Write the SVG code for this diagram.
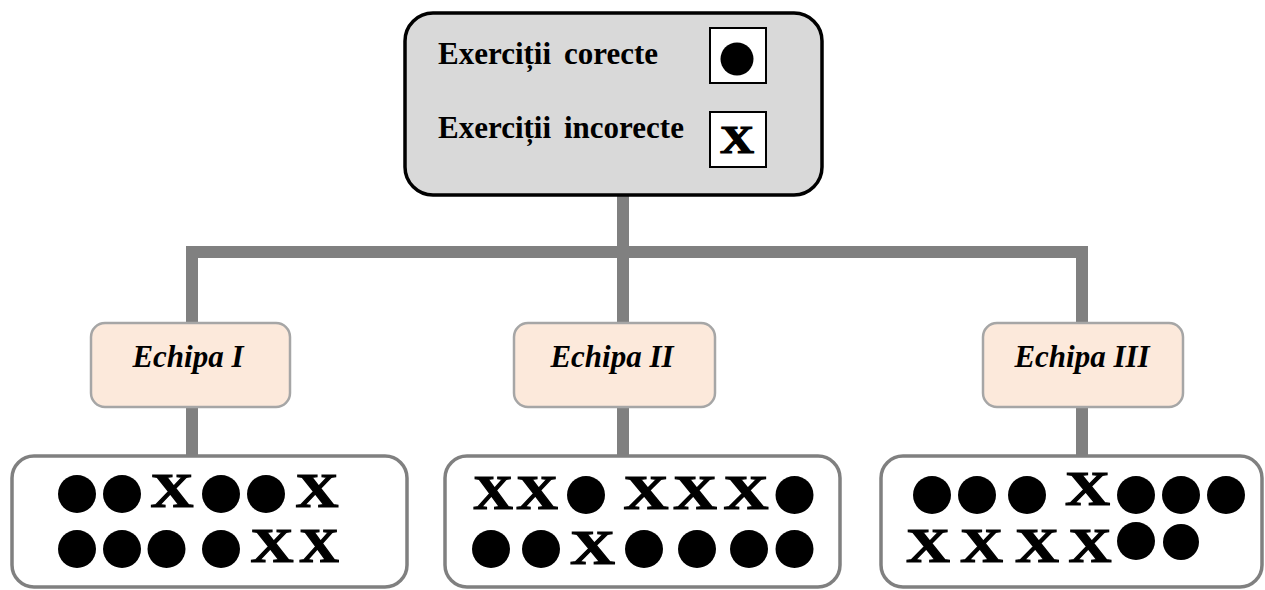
<svg xmlns="http://www.w3.org/2000/svg" width="1265" height="590" viewBox="0 0 1265 590">
<style>
.conn{fill:none;stroke:#808080;stroke-width:12;stroke-linejoin:miter}
.top{fill:#d9d9d9;stroke:#000;stroke-width:3.5}
.leg{fill:#fff;stroke:#000;stroke-width:2}
.lbl{font-family:"Liberation Serif","Times New Roman",serif;font-weight:bold;font-size:31px;fill:#000}
.team{fill:#fce9db;stroke:#a6a6a6;stroke-width:2.5}
.tt{font-family:"Liberation Serif","Times New Roman",serif;font-weight:bold;font-style:italic;font-size:31px;fill:#000;text-anchor:middle}
.res{fill:#fff;stroke:#808080;stroke-width:3.5}
.x{font-family:"Liberation Serif","Times New Roman",serif;font-weight:bold;font-size:48px;fill:#000;stroke:#000;stroke-width:1.2;text-anchor:middle}
.d{fill:#000}
</style>
<rect width="1265" height="590" fill="#fff"/>
<g id="connectors">
<path class="conn" d="M192,458 V252 H1082 V458"/>
<path class="conn" d="M623,195 V458"/>
</g>
<g id="legend">
<rect class="top" x="405" y="13" width="417" height="182" rx="28"/>
<text class="lbl" x="438" y="64">Exerciții<tspan x="564">corecte</tspan></text>
<text class="lbl" x="438" y="138">Exerciții<tspan x="564">incorecte</tspan></text>
<rect class="leg" x="710" y="28" width="56" height="55"/>
<circle class="d" cx="737" cy="59" r="16.5"/>
<rect class="leg" x="710" y="112" width="56" height="55"/>
<text class="x" x="737" y="153" style="font-size:39px" textLength="34" lengthAdjust="spacingAndGlyphs">X</text>
</g>
<g id="team1">
<rect class="team" x="91" y="323" width="199" height="84" rx="14"/>
<text class="tt" x="188" y="367">Echipa I</text>
</g>
<g id="team2">
<rect class="team" x="514" y="323" width="201" height="84" rx="14"/>
<text class="tt" x="612" y="367">Echipa II</text>
</g>
<g id="team3">
<rect class="team" x="983" y="323" width="200" height="84" rx="14"/>
<text class="tt" x="1082" y="367">Echipa III</text>
</g>
<g id="results1">
<rect class="res" x="12" y="456" width="395" height="131" rx="22"/>
<circle class="d" cx="77" cy="494" r="19"/>
<circle class="d" cx="122" cy="494" r="19"/>
<text class="x" x="172" y="507" textLength="43" lengthAdjust="spacingAndGlyphs">X</text>
<circle class="d" cx="221" cy="494" r="19"/>
<circle class="d" cx="266" cy="494" r="19"/>
<text class="x" x="317" y="507" textLength="43" lengthAdjust="spacingAndGlyphs">X</text>
<circle class="d" cx="77" cy="549" r="19"/>
<circle class="d" cx="122" cy="549" r="19"/>
<circle class="d" cx="166.5" cy="549" r="19"/>
<circle class="d" cx="221" cy="549" r="19"/>
<text class="x" x="272" y="562" textLength="43" lengthAdjust="spacingAndGlyphs">X</text>
<text class="x" x="319" y="562" textLength="40" lengthAdjust="spacingAndGlyphs">X</text>
</g>
<g id="results2">
<rect class="res" x="445" y="456" width="395" height="131" rx="22"/>
<text class="x" x="493" y="509" textLength="40" lengthAdjust="spacingAndGlyphs">X</text>
<text class="x" x="537" y="509" textLength="42" lengthAdjust="spacingAndGlyphs">X</text>
<circle class="d" cx="586" cy="495" r="19"/>
<text class="x" x="646" y="509" textLength="45" lengthAdjust="spacingAndGlyphs">X</text>
<text class="x" x="695" y="509" textLength="44" lengthAdjust="spacingAndGlyphs">X</text>
<text class="x" x="746" y="509" textLength="45" lengthAdjust="spacingAndGlyphs">X</text>
<circle class="d" cx="794.5" cy="495" r="19"/>
<circle class="d" cx="491" cy="549" r="19"/>
<circle class="d" cx="541" cy="549" r="19"/>
<text class="x" x="592.5" y="564" textLength="45" lengthAdjust="spacingAndGlyphs">X</text>
<circle class="d" cx="644" cy="549" r="19"/>
<circle class="d" cx="697" cy="549" r="19"/>
<circle class="d" cx="749" cy="549" r="19"/>
<circle class="d" cx="794.5" cy="549" r="19"/>
</g>
<g id="results3">
<rect class="res" x="881" y="456" width="381" height="131" rx="22"/>
<circle class="d" cx="932" cy="495" r="19"/>
<circle class="d" cx="977" cy="495" r="19"/>
<circle class="d" cx="1027" cy="495" r="19"/>
<text class="x" x="1087.5" y="505" textLength="45" lengthAdjust="spacingAndGlyphs">X</text>
<circle class="d" cx="1136" cy="495" r="19"/>
<circle class="d" cx="1181" cy="495" r="19"/>
<circle class="d" cx="1226" cy="495" r="19"/>
<text class="x" x="928" y="562" textLength="44" lengthAdjust="spacingAndGlyphs">X</text>
<text class="x" x="981.5" y="562" textLength="43" lengthAdjust="spacingAndGlyphs">X</text>
<text class="x" x="1037" y="562" textLength="44" lengthAdjust="spacingAndGlyphs">X</text>
<text class="x" x="1090" y="562" textLength="43" lengthAdjust="spacingAndGlyphs">X</text>
<circle class="d" cx="1136" cy="541" r="19"/>
<circle class="d" cx="1181" cy="542" r="18"/>
</g>
</svg>
